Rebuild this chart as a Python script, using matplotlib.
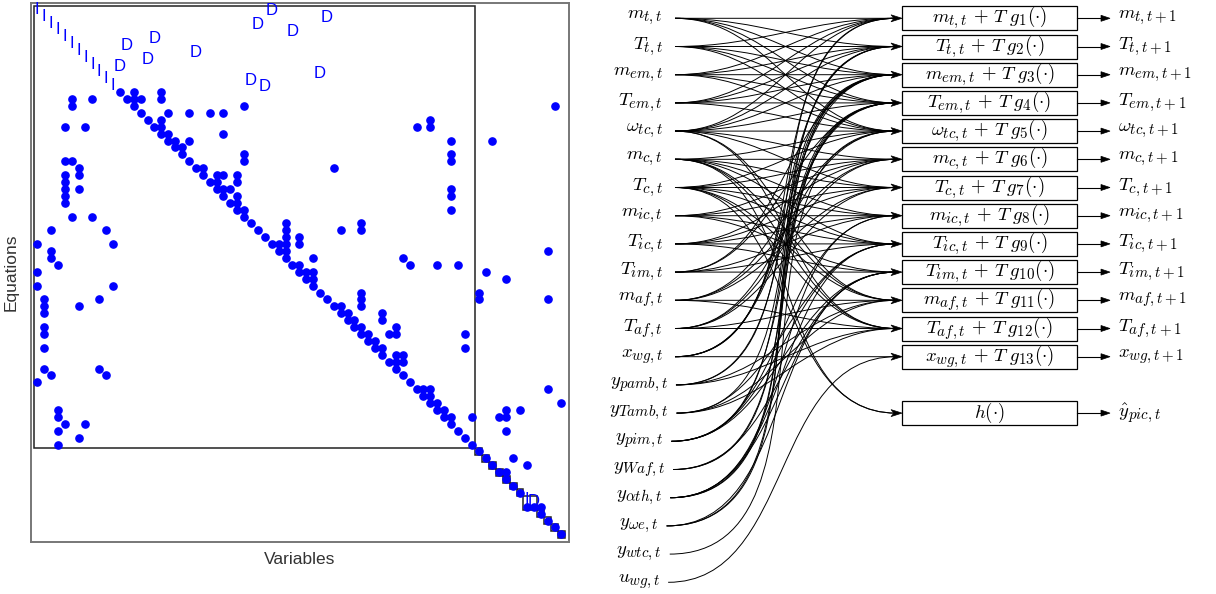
import matplotlib
matplotlib.use("Agg")
import matplotlib.pyplot as plt
import matplotlib._mathtext as mt
from matplotlib.path import Path
from matplotlib.patches import PathPatch, Rectangle, Polygon
import numpy as np

plt.rcParams['mathtext.fontset'] = 'cm'
plt.rcParams['font.family'] = ['Liberation Sans', 'DejaVu Sans']
# larger sub/superscripts, closer to the LaTeX look
mt.SHRINK_FACTOR = 0.8

# ---------------- left panel data (structural matrix) ----------------
n_cells = 77
# off-diagonal blue dots, column indices per equation row
dot_cols_by_row = {
    12: [14, 18], 13: [5, 8, 14, 15, 18], 14: [5, 30, 75], 15: [19, 22, 25, 27],
    16: [18, 57], 17: [4, 7, 18, 55, 57], 18: [19, 27], 19: [20, 22, 60, 66],
    20: [21], 21: [30, 60], 22: [4, 5, 30, 60], 23: [6, 24, 43],
    24: [4, 6, 26, 27, 29], 25: [4, 26, 29], 26: [4, 6, 27, 28, 60], 27: [4, 29, 60],
    28: [4, 29], 29: [30, 60], 30: [5, 8], 31: [36, 47], 32: [2, 10, 36, 44, 47],
    33: [36, 38], 34: [0, 11, 35, 36, 38], 35: [2, 36, 74], 36: [2, 40, 53],
    37: [3, 38, 54, 58, 61], 38: [0, 39, 40, 65], 39: [40, 68], 40: [0, 11],
    41: [47, 64], 42: [1, 9, 47, 64, 74], 43: [1, 6, 44, 47], 44: [1, 45, 50],
    45: [46, 50], 46: [1, 47, 52], 47: [1, 48, 51, 52, 62], 48: [49],
    49: [1, 50, 62], 50: [52, 53], 51: [52, 53], 52: [1, 9], 53: [2, 10], 54: [0],
    55: [56, 57, 74], 56: [57], 57: [58, 76], 58: [3, 59, 68, 70],
    59: [3, 60, 63, 67, 68], 60: [4, 7], 61: [3, 68], 62: [6], 63: [3],
    65: [69], 66: [71], 67: [68], 72: [71, 73],
}
diag_dots = [i for i in range(12, 77) if i != 71]
i_rows = list(range(12)) + [71]
i_cols = list(range(12)) + [71]
d_rows = [0, 1, 2, 3, 4, 5, 6, 7, 8, 9, 10, 11, 71]
d_cols = [34, 42, 32, 37, 17, 13, 23, 16, 12, 41, 31, 33, 72]
main_block = 64
single_blocks = [64, 65, 66, 67, 68, 69, 70, 73, 74, 75, 76]
double_block = 71

# ---------------- right panel data (dependency graph) ----------------
in_labels = [r'$m_{t,t}$', r'$T_{t,t}$', r'$m_{em,t}$', r'$T_{em,t}$', r'$\omega_{tc,t}$',
             r'$m_{c,t}$', r'$T_{c,t}$', r'$m_{ic,t}$', r'$T_{ic,t}$', r'$T_{im,t}$',
             r'$m_{af,t}$', r'$T_{af,t}$', r'$x_{wg,t}$', r'$y_{pamb,t}$', r'$y_{Tamb,t}$',
             r'$y_{pim,t}$', r'$y_{Waf,t}$', r'$y_{\alpha th,t}$', r'$y_{\omega e,t}$',
             r'$y_{wtc,t}$', r'$u_{wg,t}$']
box_labels = [r'$m_{t,t}\, +\, T\;g_1(\cdot)$', r'$T_{t,t}\, +\, T\;g_2(\cdot)$',
              r'$m_{em,t}\, +\, T\;g_3(\cdot)$', r'$T_{em,t}\, +\, T\;g_4(\cdot)$',
              r'$\omega_{tc,t}\, +\, T\;g_5(\cdot)$', r'$m_{c,t}\, +\, T\;g_6(\cdot)$',
              r'$T_{c,t}\, +\, T\;g_7(\cdot)$', r'$m_{ic,t}\, +\, T\;g_8(\cdot)$',
              r'$T_{ic,t}\, +\, T\;g_9(\cdot)$', r'$T_{im,t}\, +\, T\;g_{10}(\cdot)$',
              r'$m_{af,t}\, +\, T\;g_{11}(\cdot)$', r'$T_{af,t}\, +\, T\;g_{12}(\cdot)$',
              r'$x_{wg,t}\, +\, T\;g_{13}(\cdot)$', r'$h(\cdot)$']
out_labels = [r'$m_{t,t+1}$', r'$T_{t,t+1}$', r'$m_{em,t+1}$', r'$T_{em,t+1}$',
              r'$\omega_{tc,t+1}$', r'$m_{c,t+1}$', r'$T_{c,t+1}$', r'$m_{ic,t+1}$',
              r'$T_{ic,t+1}$', r'$T_{im,t+1}$', r'$m_{af,t+1}$', r'$T_{af,t+1}$',
              r'$x_{wg,t+1}$', r'$\hat{y}_{pic,t}$']
box_rows = list(range(13)) + [14]
box_inputs = [
    [0, 1, 2, 3, 4, 12, 13],
    [0, 1, 2, 3, 4, 12, 13, 14],
    [0, 1, 2, 3, 4, 9, 12, 15, 16, 17, 18],
    [0, 1, 2, 3, 4, 9, 12, 15, 16, 17, 18],
    [0, 1, 2, 3, 4, 5, 6, 10, 11, 19],
    [4, 5, 6, 7, 8, 10, 11],
    [4, 5, 6, 7, 8, 10, 11],
    [5, 6, 7, 8, 9, 15, 17],
    [5, 6, 7, 8, 9, 14, 15, 17],
    [7, 8, 9, 15, 16, 17, 18],
    [4, 5, 6, 10, 11, 13, 14],
    [4, 5, 6, 10, 11, 13, 14],
    [12, 20],
    [5, 6],
]

fig = plt.figure(figsize=(12.16, 5.94), dpi=100)

# ======================= left panel =======================
ax = fig.add_axes([31 / 1216, 1 - 542 / 594, 538 / 1216, 539 / 594])
ax.set_xlim(-0.9, 77.1)
ax.set_ylim(77.1, -0.9)
ax.set_xticks([])
ax.set_yticks([])
for s in ax.spines.values():
    s.set_color('#777777')
    s.set_linewidth(1.4)

xs, ys = [], []
for r, cols in dot_cols_by_row.items():
    for c in cols:
        xs.append(c)
        ys.append(r)
xs += diag_dots
ys += diag_dots
ax.plot(xs, ys, 'o', color='blue', ms=5.2, mec='blue', zorder=3)

for r, c in zip(i_rows, i_cols):
    ax.text(c, r, 'I', color='blue', fontsize=12, ha='center', va='center', zorder=4)
for r, c in zip(d_rows, d_cols):
    ax.text(c, r + 0.25, 'D', color='blue', fontsize=12, ha='center', va='center', zorder=4)

ax.add_patch(Rectangle((-0.5, -0.5), main_block, main_block, fill=False,
                       ec='#222222', lw=1.1, zorder=2))
for b in single_blocks:
    ax.add_patch(Rectangle((b - 0.5, b - 0.5), 1, 1, fill=False, ec='#222222',
                           lw=1.1, zorder=2))
ax.add_patch(Rectangle((double_block - 0.5, double_block - 0.5), 2, 2, fill=False,
                       ec='#222222', lw=1.1, zorder=2))

ax.set_xlabel('Variables', fontsize=12.5, color='#333333', labelpad=7)
ax.set_ylabel('Equations', fontsize=12.5, color='#333333', labelpad=9)

# ======================= right panel =======================
ax2 = fig.add_axes([584 / 1216, 0, 632 / 1216, 1])
ax2.set_xlim(584, 1216)
ax2.set_ylim(594, 0)
ax2.axis('off')

y0, dy = 18.3, 28.2
box_x0, box_x1, box_h = 902, 1077, 24


def row_y(k):
    return y0 + dy * k


fs = 13.5
texts = []
for k, lab in enumerate(in_labels):
    if k < 13:
        t = ax2.text(663, row_y(k), lab, fontsize=fs, ha='right', va='center')
    else:
        t = ax2.text(639, row_y(k), lab, fontsize=fs, ha='center', va='center')
    texts.append(t)

fig.canvas.draw()
rend = fig.canvas.get_renderer()
inv = ax2.transData.inverted()
starts = []
for k, t in enumerate(texts):
    if k < 13:
        starts.append(675)
    else:
        bb = t.get_window_extent(rend)
        starts.append(inv.transform((bb.x1, bb.y0))[0] + 8)


def curve(x0, ya, x1, yb):
    d = np.hypot(x1 - x0, yb - ya) * 0.3915
    verts = [(x0, ya), (x0 + d, ya), (x1 - d, yb), (x1, yb)]
    return Path(verts, [Path.MOVETO, Path.CURVE4, Path.CURVE4, Path.CURVE4])


for b, (row, ins) in enumerate(zip(box_rows, box_inputs)):
    yb = row_y(row)
    for i in ins:
        ax2.add_patch(PathPatch(curve(starts[i], row_y(i), box_x0 - 6, yb),
                                fc='none', ec='black', lw=0.7))
    # arrow head into box
    ax2.add_patch(Polygon([(box_x0, yb), (box_x0 - 11, yb - 3.5), (box_x0 - 8, yb),
                           (box_x0 - 11, yb + 3.5)], closed=True, fc='black', ec='black', lw=0.5))
    ax2.add_patch(Rectangle((box_x0, yb - box_h / 2), box_x1 - box_x0, box_h,
                            fill=False, ec='black', lw=0.9))
    ax2.text((box_x0 + box_x1) / 2, yb, box_labels[b], fontsize=fs, ha='center', va='center')
    # output arrow
    ax2.plot([box_x1, 1104], [yb, yb], color='black', lw=0.8)
    ax2.add_patch(Polygon([(1110, yb), (1101, yb - 3), (1101, yb + 3)], closed=True,
                          fc='black', ec='black', lw=0.5))
    ax2.text(1118, yb, out_labels[b], fontsize=fs, ha='left', va='center')

fig.savefig('out.png', dpi=100)
